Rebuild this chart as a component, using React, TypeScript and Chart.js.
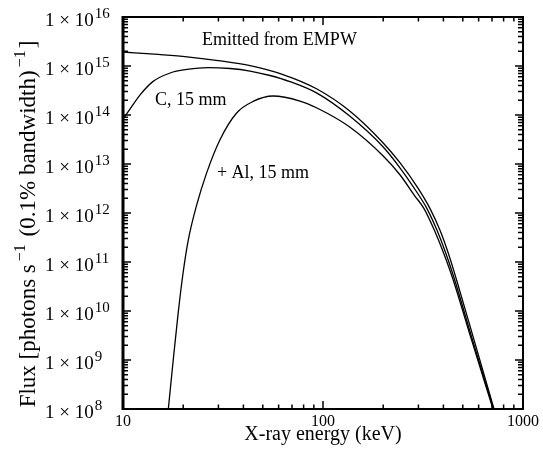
import React, { useEffect, useRef } from 'react';
import { Chart, registerables } from 'chart.js';

Chart.register(...registerables);

// ---- data ----
const emittedEnergy = [10, 15, 20.9, 29.9, 43.2, 63.1, 93.3, 136, 200, 243, 298.5, 343, 385, 422, 462, 569, 716];
const emittedFlux = [1.93e15, 1.72e15, 1.54e15, 1.29e15, 1.02e15, 6.7e14, 3.4e14, 1.21e14, 2.69e13, 1.05e13, 3.23e12, 1.23e12, 4.38e11, 1.56e11, 4.76e10, 2.57e9, 1e8];

const carbonEnergy = [10, 10.84, 12.2, 14.1, 17.2, 20.9, 26.6, 34.3, 43.2, 54.3, 68.4, 93.3, 136, 200, 243, 292, 331, 372, 410, 452, 559, 712];
const carbonFlux = [8.3e13, 1.32e14, 2.6e14, 4.8e14, 7.2e14, 8.5e14, 9.3e14, 8.9e14, 7.9e14, 6.4e14, 4.8e14, 2.8e14, 9.5e13, 2.22e13, 8.28e12, 2.81e12, 1.23e12, 4.38e11, 1.56e11, 4.76e10, 2.57e9, 1e8];

const aluminiumEnergy = [16.85, 17.83, 18.9, 20.0, 21.2, 23.35, 26.2, 30.5, 37.0, 44.7, 56.2, 76.7, 93.3, 136, 200, 243, 288, 320, 361, 400, 444, 553, 708];
const aluminiumFlux = [1e8, 1e9, 9.6e9, 6.25e10, 2.8e11, 1.45e12, 6.6e12, 3.1e13, 1.1e14, 1.89e14, 2.44e14, 1.93e14, 1.39e14, 5.7e13, 1.46e13, 5.97e12, 2.22e12, 1.23e12, 4.38e11, 1.56e11, 4.76e10, 2.57e9, 1e8];

const xTickValues = [10, 100, 1000];
const xTickLabels = ['10', '100', '1000'];
const yTickExponents = [8, 9, 10, 11, 12, 13, 14, 15, 16];

const curveLabels = [
  { text: 'Emitted from EMPW', energy: 24.8, flux: 3.4e15 },
  { text: 'C, 15 mm', energy: 14.45, flux: 2.0e14 },
  { text: '+ Al, 15 mm', energy: 29.5, flux: 6.6e12 },
];

const xTitle = 'X-ray energy (keV)';
const yTitleParts = [
  { t: 'Flux [photons s', sup: false },
  { t: '\u22121', sup: true },
  { t: ' (0.1% bandwidth)', sup: false },
  { t: '\u22121', sup: true },
  { t: ']', sup: false },
];

const SERIF = '"Liberation Serif", "Times New Roman", serif';

const toPoints = (xs: number[], ys: number[]) => xs.map((x, i) => ({ x, y: ys[i] }));

const framePlugin = {
  id: 'frameAndLabels',
  afterDraw(chart: any) {
    const { ctx, chartArea: a, scales } = chart;
    const xs = scales.x;
    const ys = scales.y;
    ctx.save();
    ctx.strokeStyle = '#000';
    ctx.fillStyle = '#000';

    // inward ticks
    ctx.lineWidth = 1.5;
    ctx.beginPath();
    const xTick = (v: number, len: number) => {
      const px = xs.getPixelForValue(v);
      ctx.moveTo(px, a.bottom);
      ctx.lineTo(px, a.bottom - len);
      ctx.moveTo(px, a.top);
      ctx.lineTo(px, a.top + len);
    };
    const yTick = (v: number, len: number) => {
      const py = ys.getPixelForValue(v);
      ctx.moveTo(a.left, py);
      ctx.lineTo(a.left + len, py);
      ctx.moveTo(a.right, py);
      ctx.lineTo(a.right - len, py);
    };
    xTickValues.forEach((v, i) => {
      xTick(v, 8);
      if (i < xTickValues.length - 1) for (let k = 2; k <= 9; k++) xTick(v * k, 4.5);
    });
    yTickExponents.forEach((e, i) => {
      const v = Math.pow(10, e);
      yTick(v, 8);
      if (i < yTickExponents.length - 1) for (let k = 2; k <= 9; k++) yTick(v * k, 5);
    });
    ctx.stroke();

    // frame
    ctx.lineWidth = 2;
    ctx.strokeRect(a.left, a.top, a.right - a.left, a.bottom - a.top);
    ctx.lineWidth = 3;
    ctx.beginPath();
    ctx.moveTo(a.left, a.top - 1);
    ctx.lineTo(a.left, a.bottom + 1);
    ctx.stroke();

    // y tick labels  1 × 10^n
    ctx.textAlign = 'left';
    ctx.textBaseline = 'alphabetic';
    yTickExponents.forEach((e) => {
      const py = ys.getPixelForValue(Math.pow(10, e));
      const x0 = 45;
      ctx.font = `19px ${SERIF}`;
      const base = '1 \u00d7 10';
      ctx.fillText(base, x0, py + 9);
      const w = ctx.measureText(base).width;
      ctx.font = `15px ${SERIF}`;
      ctx.fillText(String(e), x0 + w + 1, py + 1);
    });

    // y axis title (rotated)
    ctx.save();
    ctx.translate(35, 224);
    ctx.rotate(-Math.PI / 2);
    const mainFont = `23px ${SERIF}`;
    const supFont = `16px ${SERIF}`;
    let total = 0;
    yTitleParts.forEach((p) => {
      ctx.font = p.sup ? supFont : mainFont;
      total += ctx.measureText(p.t).width + (p.sup ? 5 : 0);
    });
    let cx = -total / 2;
    yTitleParts.forEach((p) => {
      ctx.font = p.sup ? supFont : mainFont;
      if (p.sup) cx += 3;
      ctx.fillText(p.t, cx, p.sup ? -10 : 0);
      cx += ctx.measureText(p.t).width + (p.sup ? 2 : 0);
    });
    ctx.restore();

    // curve annotations
    ctx.font = `18px ${SERIF}`;
    ctx.textBaseline = 'middle';
    curveLabels.forEach((l) => {
      ctx.fillText(l.text, xs.getPixelForValue(l.energy), ys.getPixelForValue(l.flux));
    });
    ctx.restore();
  },
};

export default function App() {
  const canvasRef = useRef<HTMLCanvasElement>(null);

  useEffect(() => {
    if (!canvasRef.current) return;
    const lineStyle = {
      borderColor: '#000',
      backgroundColor: '#000',
      borderWidth: 1.3,
      pointRadius: 0,
      showLine: true,
      fill: false,
      cubicInterpolationMode: 'monotone' as const,
    };
    const chart = new Chart(canvasRef.current, {
      type: 'scatter',
      data: {
        datasets: [
          { label: 'Emitted from EMPW', data: toPoints(emittedEnergy, emittedFlux), ...lineStyle },
          { label: 'C, 15 mm', data: toPoints(carbonEnergy, carbonFlux), ...lineStyle },
          { label: '+ Al, 15 mm', data: toPoints(aluminiumEnergy, aluminiumFlux), ...lineStyle },
        ],
      },
      options: {
        animation: false,
        responsive: false,
        devicePixelRatio: 1,
        layout: { padding: { top: 17, right: 20, left: 0, bottom: 0 } },
        plugins: { legend: { display: false }, tooltip: { enabled: false } },
        scales: {
          x: {
            type: 'logarithmic',
            min: 10,
            max: 1000,
            grid: { display: false, drawTicks: false },
            border: { display: false },
            afterBuildTicks: (s: any) => {
              s.ticks = xTickValues.map((v) => ({ value: v }));
            },
            afterFit: (s: any) => {
              s.height = 50;
            },
            ticks: {
              autoSkip: false,
              maxRotation: 0,
              padding: 3,
              color: '#000',
              font: { family: SERIF, size: 16 },
              callback: (_v: any, i: number) => xTickLabels[i],
            },
            title: {
              display: true,
              text: xTitle,
              color: '#000',
              font: { family: SERIF, size: 20 },
              padding: { top: 0, bottom: 12 },
            },
          },
          y: {
            type: 'logarithmic',
            min: 1e8,
            max: 1e16,
            grid: { display: false, drawTicks: false },
            border: { display: false },
            ticks: { display: false },
            afterBuildTicks: (s: any) => {
              s.ticks = yTickExponents.map((e) => ({ value: Math.pow(10, e) }));
            },
            afterFit: (s: any) => {
              s.width = 123;
            },
          },
        },
      },
      plugins: [framePlugin],
    });
    return () => chart.destroy();
  }, []);

  return (
    <div style={{ position: 'fixed', left: 0, top: 0, width: 543, height: 459, background: '#fff' }}>
      <canvas ref={canvasRef} width={543} height={459} style={{ display: 'block' }} />
    </div>
  );
}
